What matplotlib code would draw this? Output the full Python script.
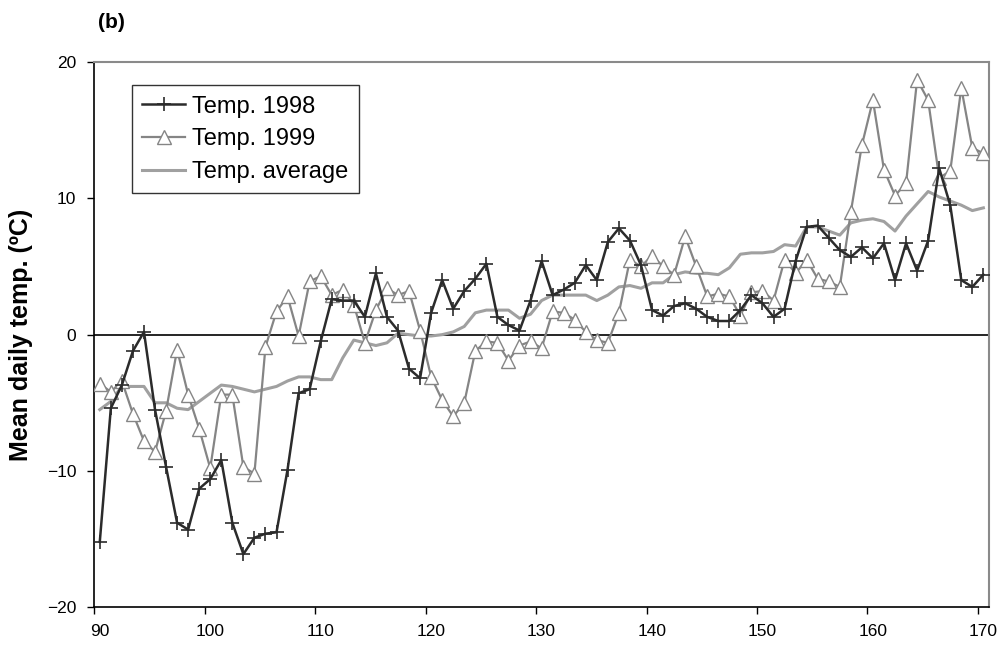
import matplotlib
matplotlib.use("Agg")
import matplotlib.pyplot as plt
import numpy as np

plt.rcParams['font.family'] = ['Liberation Sans', 'DejaVu Sans']

days = list(range(90, 171))

temp_1998 = [
    -15.2, -5.4, -3.7, -1.2, 0.2, -5.5, -9.7, -13.8, -14.3, -11.3,
    -10.6, -9.2, -13.8, -16.1, -14.9, -14.6, -14.5, -9.9, -4.3, -4.0,
    -0.5, 2.6, 2.5, 2.5, 1.3, 4.5, 1.3, 0.3, -2.5, -3.2,
    1.6, 4.0, 1.9, 3.2, 4.1, 5.2, 1.3, 0.7, 0.3, 2.5,
    5.4, 2.9, 3.3, 3.8, 5.1, 4.0, 6.8, 7.8, 6.9, 5.1,
    1.8, 1.4, 2.1, 2.3, 1.9, 1.3, 1.0, 1.0, 1.8, 2.9,
    2.3, 1.3, 1.9, 5.4, 7.9, 8.0, 7.1, 6.2, 5.7, 6.4,
    5.6, 6.7, 4.0, 6.7, 4.7, 6.9, 12.2, 9.5, 4.0, 3.5,
    4.4,
]

temp_1999 = [
    -3.6, -4.2, -3.4, -5.8, -7.8, -8.6, -5.6, -1.1, -4.4, -6.9,
    -9.8, -4.4, -4.4, -9.7, -10.2, -0.9, 1.7, 2.8, -0.1, 3.9,
    4.3, 2.9, 3.3, 2.2, -0.6, 1.8, 3.4, 2.9, 3.2, 0.3,
    -3.1, -4.8, -6.0, -5.0, -1.2, -0.5, -0.6, -1.9, -0.8, -0.5,
    -1.0, 1.7, 1.6, 1.1, 0.2, -0.4, -0.6, 1.6, 5.5, 5.0,
    5.8, 5.0, 4.4, 7.2, 5.0, 2.8, 3.0, 2.8, 1.4, 3.1,
    3.2, 2.5, 5.5, 4.5, 5.5, 4.1, 3.9, 3.5, 9.0, 13.9,
    17.2, 12.1, 10.2, 11.1, 18.7, 17.2, 11.5, 12.0, 18.1, 13.7,
    13.3,
]

temp_average = [
    -5.5, -4.9, -3.8, -3.8, -3.8, -5.0, -5.0, -5.4, -5.5, -4.9,
    -4.3, -3.7, -3.8, -4.0, -4.2, -4.0, -3.8, -3.4, -3.1, -3.1,
    -3.3, -3.3, -1.7, -0.4, -0.6, -0.8, -0.6, 0.1, 0.0, -0.1,
    -0.1, 0.0, 0.2, 0.6, 1.6, 1.8, 1.8, 1.8, 1.2, 1.5,
    2.5, 2.9, 2.9, 2.9, 2.9, 2.5, 2.9, 3.5, 3.6, 3.4,
    3.8, 3.8, 4.4, 4.6, 4.5, 4.5, 4.4, 4.9, 5.9, 6.0,
    6.0, 6.1, 6.6, 6.5, 7.9, 7.9, 7.6, 7.3, 8.2, 8.4,
    8.5, 8.3, 7.6, 8.7, 9.6, 10.5, 10.1, 9.8, 9.5, 9.1,
    9.3,
]

x_labels = [90, 100, 110, 120, 130, 140, 150, 160, 170]
y_ticks = [-20, -10, 0, 10, 20]

fig = plt.figure(figsize=(10.06, 6.52), dpi=100)
ax = fig.add_axes([0.0937, 0.0686, 0.8893, 0.8363])

ax.axhline(0, color='black', lw=1.2, zorder=1)

ax.plot(days, temp_average, color='#a0a0a0', lw=2.2, label='Temp. average', zorder=2)
ax.plot(days, temp_1999, color='#858585', lw=1.6, marker='^', markersize=10,
        markerfacecolor='white', markeredgecolor='#858585', markeredgewidth=1.0,
        label='Temp. 1999', zorder=3)
ax.plot(days, temp_1998, color='#2b2b2b', lw=1.8, marker='+', markersize=10,
        markeredgewidth=1.2, label='Temp. 1998', zorder=4)

ax.set_xlim(89.5, 170.5)
ax.set_ylim(-20, 20)

# category labels centred on the days, tick marks on the category boundaries
ax.set_xticks(x_labels)
ax.set_xticklabels([str(v) for v in x_labels])
ax.set_xticks([v - 0.5 for v in x_labels], minor=True)
ax.tick_params(axis='x', which='major', length=0, pad=12, labelsize=12.5)
ax.tick_params(axis='x', which='minor', length=5, width=1, direction='out', color='black')

ax.set_yticks(y_ticks)
ax.tick_params(axis='y', length=5, width=1, direction='out', pad=8, labelsize=12.5)

for side in ('left', 'bottom'):
    ax.spines[side].set_color('black')
    ax.spines[side].set_linewidth(1.2)
for side in ('top', 'right'):
    ax.spines[side].set_color('#8a8a8a')
    ax.spines[side].set_linewidth(1.5)

ax.set_ylabel('Mean daily temp. (ºC)', fontsize=18, fontweight='bold', labelpad=10)

handles, labels = ax.get_legend_handles_labels()
order = [2, 1, 0]
leg = ax.legend([handles[i] for i in order], [labels[i] for i in order],
                loc='upper left', bbox_to_anchor=(0.042, 0.958), borderaxespad=0,
                fontsize=17, frameon=True, fancybox=False, edgecolor='black',
                handlelength=1.8, handletextpad=0.3, borderpad=0.45, labelspacing=0.45)
leg.get_frame().set_linewidth(1.0)

fig.text(0.097, 0.965, '(b)', fontsize=15, fontweight='bold', va='center', ha='left')

fig.savefig('out.png', dpi=100)
